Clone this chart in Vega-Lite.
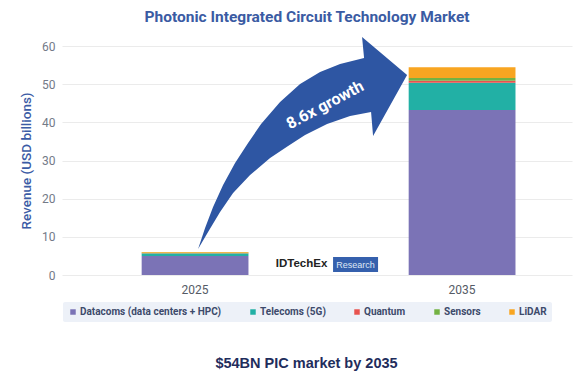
{
  "$schema": "https://vega.github.io/schema/vega-lite/v6.json",
  "width": 510,
  "height": 229,
  "autosize": {"type": "none"},
  "padding": {"left": 62, "top": 46, "right": 2, "bottom": 101},
  "background": "white",
  "title": {
    "text": "Photonic Integrated Circuit Technology Market",
    "anchor": "middle",
    "frame": "group",
    "dx": -10,
    "offset": 11,
    "font": "Roboto",
    "fontSize": 15.5,
    "fontWeight": "bold",
    "color": "#3a5ba3"
  },
  "config": {
    "view": {"stroke": null},
    "font": "Roboto",
    "axisY": {
      "tickCount": 7,
      "labelOverlap": false,
      "labelFontSize": 12,
      "labelColor": "#737a88",
      "labelPadding": 7,
      "ticks": false,
      "domain": false,
      "gridColor": "#ebebeb",
      "titleColor": "#3b5ba5",
      "titleFontSize": 13.5,
      "titleFontWeight": 500,
      "titlePadding": 8
    }
  },
  "layer": [
    {
      "data": {
        "values": [
          {"year": "2025", "segment": "Datacoms (data centers + HPC)", "rank": 1, "revenue": 5.0},
          {"year": "2025", "segment": "Telecoms (5G)", "rank": 2, "revenue": 0.65},
          {"year": "2025", "segment": "Quantum", "rank": 3, "revenue": 0.05},
          {"year": "2025", "segment": "Sensors", "rank": 4, "revenue": 0.1},
          {"year": "2025", "segment": "LiDAR", "rank": 5, "revenue": 0.25},
          {"year": "2035", "segment": "Datacoms (data centers + HPC)", "rank": 1, "revenue": 43.2},
          {"year": "2035", "segment": "Telecoms (5G)", "rank": 2, "revenue": 7.2},
          {"year": "2035", "segment": "Quantum", "rank": 3, "revenue": 0.5},
          {"year": "2035", "segment": "Sensors", "rank": 4, "revenue": 0.7},
          {"year": "2035", "segment": "LiDAR", "rank": 5, "revenue": 2.8}
        ]
      },
      "mark": {"type": "bar"},
      "encoding": {
        "x": {
          "field": "year",
          "type": "nominal",
          "scale": {"paddingInner": 0.6, "paddingOuter": 0.255, "align": 0.585},
          "axis": {
            "title": "$54BN PIC market by 2035",
            "titleFont": "Liberation Sans",
            "titleFontSize": 14.5,
            "titleFontWeight": "bold",
            "titleColor": "#1f2d5c",
            "titleX": 244,
            "titleY": 88,
            "titleBaseline": "middle",
            "titleAnchor": "middle",
            "labelAngle": 0,
            "labelFontSize": 12,
            "labelColor": "#555b66",
            "labelPadding": 9,
            "ticks": false,
            "domain": false
          }
        },
        "y": {
          "field": "revenue",
          "type": "quantitative",
          "stack": "zero",
          "scale": {"domain": [0, 60]},
          "axis": {
            "title": "Revenue (USD billions)",
            "values": [0, 10, 20, 30, 40, 50, 60]
          }
        },
        "order": {"field": "rank", "type": "quantitative", "sort": "ascending"},
        "color": {
          "field": "segment",
          "type": "nominal",
          "scale": {
            "domain": ["Datacoms (data centers + HPC)", "Telecoms (5G)", "Quantum", "Sensors", "LiDAR"],
            "range": ["#7b73b6", "#22b0a5", "#e8534f", "#74b244", "#f8a521"]
          },
          "legend": {
            "title": null,
            "orient": "none",
            "direction": "horizontal",
            "columns": 5,
            "legendX": 1,
            "legendY": 256,
            "padding": 5,
            "fillColor": "#edf1f8",
            "cornerRadius": 2,
            "symbolType": "square",
            "symbolSize": 30,
            "symbolStrokeWidth": 0,
            "labelFont": "Roboto",
            "labelFontSize": 10,
            "labelFontWeight": "bold",
            "labelColor": "#3d4a6b",
            "labelOffset": 2,
            "columnPadding": 26,
            "labelLimit": 300
          }
        }
      }
    },
    {
      "data": {"values": [{"label": "growth arrow"}]},
      "mark": {
        "type": "point",
        "shape": "M0.03,0.007 L0.10,-0.203 L0.18,-0.413 L0.28,-0.633 L0.40,-0.853 L0.53,-1.053 L0.66,-1.243 L0.85,-1.463 L1.05,-1.643 L1.25,-1.763 L1.45,-1.843 L1.69,-1.903 L1.67,-2.113 L2.12,-1.733 L1.78,-1.123 L1.76,-1.363 L1.55,-1.323 L1.32,-1.243 L1.10,-1.133 L0.93,-1.023 L0.75,-0.903 L0.55,-0.733 L0.38,-0.553 L0.25,-0.363 L0.13,-0.163 Z",
        "size": 40000,
        "filled": true,
        "fill": "#2e56a3",
        "opacity": 1,
        "strokeWidth": 0
      },
      "encoding": {
        "x": {"datum": "2025"},
        "y": {"datum": 7}
      }
    },
    {
      "data": {"values": [{"label": "8.6x growth"}]},
      "mark": {
        "type": "text",
        "angle": -28,
        "dx": 114.8,
        "dy": 61,
        "fontSize": 16,
        "fontWeight": "bold",
        "font": "Roboto",
        "color": "white",
        "align": "center",
        "baseline": "middle"
      },
      "encoding": {
        "x": {"datum": "2025"},
        "y": {"datum": 44.5},
        "text": {"field": "label"}
      }
    },
    {
      "data": {"values": [{"label": "logo box"}]},
      "mark": {
        "type": "point",
        "shape": "M6.133,-0.333 L8.133,-0.333 L8.133,0.333 L6.133,0.333 Z",
        "size": 2025,
        "filled": true,
        "fill": "#3560ad",
        "opacity": 1,
        "strokeWidth": 0
      },
      "encoding": {
        "x": {"datum": "2025"},
        "y": {"datum": 2.75}
      }
    },
    {
      "data": {"values": [{"label": "IDTechEx"}]},
      "mark": {
        "type": "text",
        "dx": 106.5,
        "fontSize": 11.5,
        "fontWeight": "bold",
        "font": "Liberation Sans",
        "color": "#222222",
        "align": "center",
        "baseline": "middle"
      },
      "encoding": {
        "x": {"datum": "2025"},
        "y": {"datum": 2.9},
        "text": {"field": "label"}
      }
    },
    {
      "data": {"values": [{"label": "Research"}]},
      "mark": {
        "type": "text",
        "dx": 160.5,
        "fontSize": 9,
        "font": "Liberation Sans",
        "color": "#dfe7f5",
        "align": "center",
        "baseline": "middle"
      },
      "encoding": {
        "x": {"datum": "2025"},
        "y": {"datum": 2.75},
        "text": {"field": "label"}
      }
    }
  ]
}
